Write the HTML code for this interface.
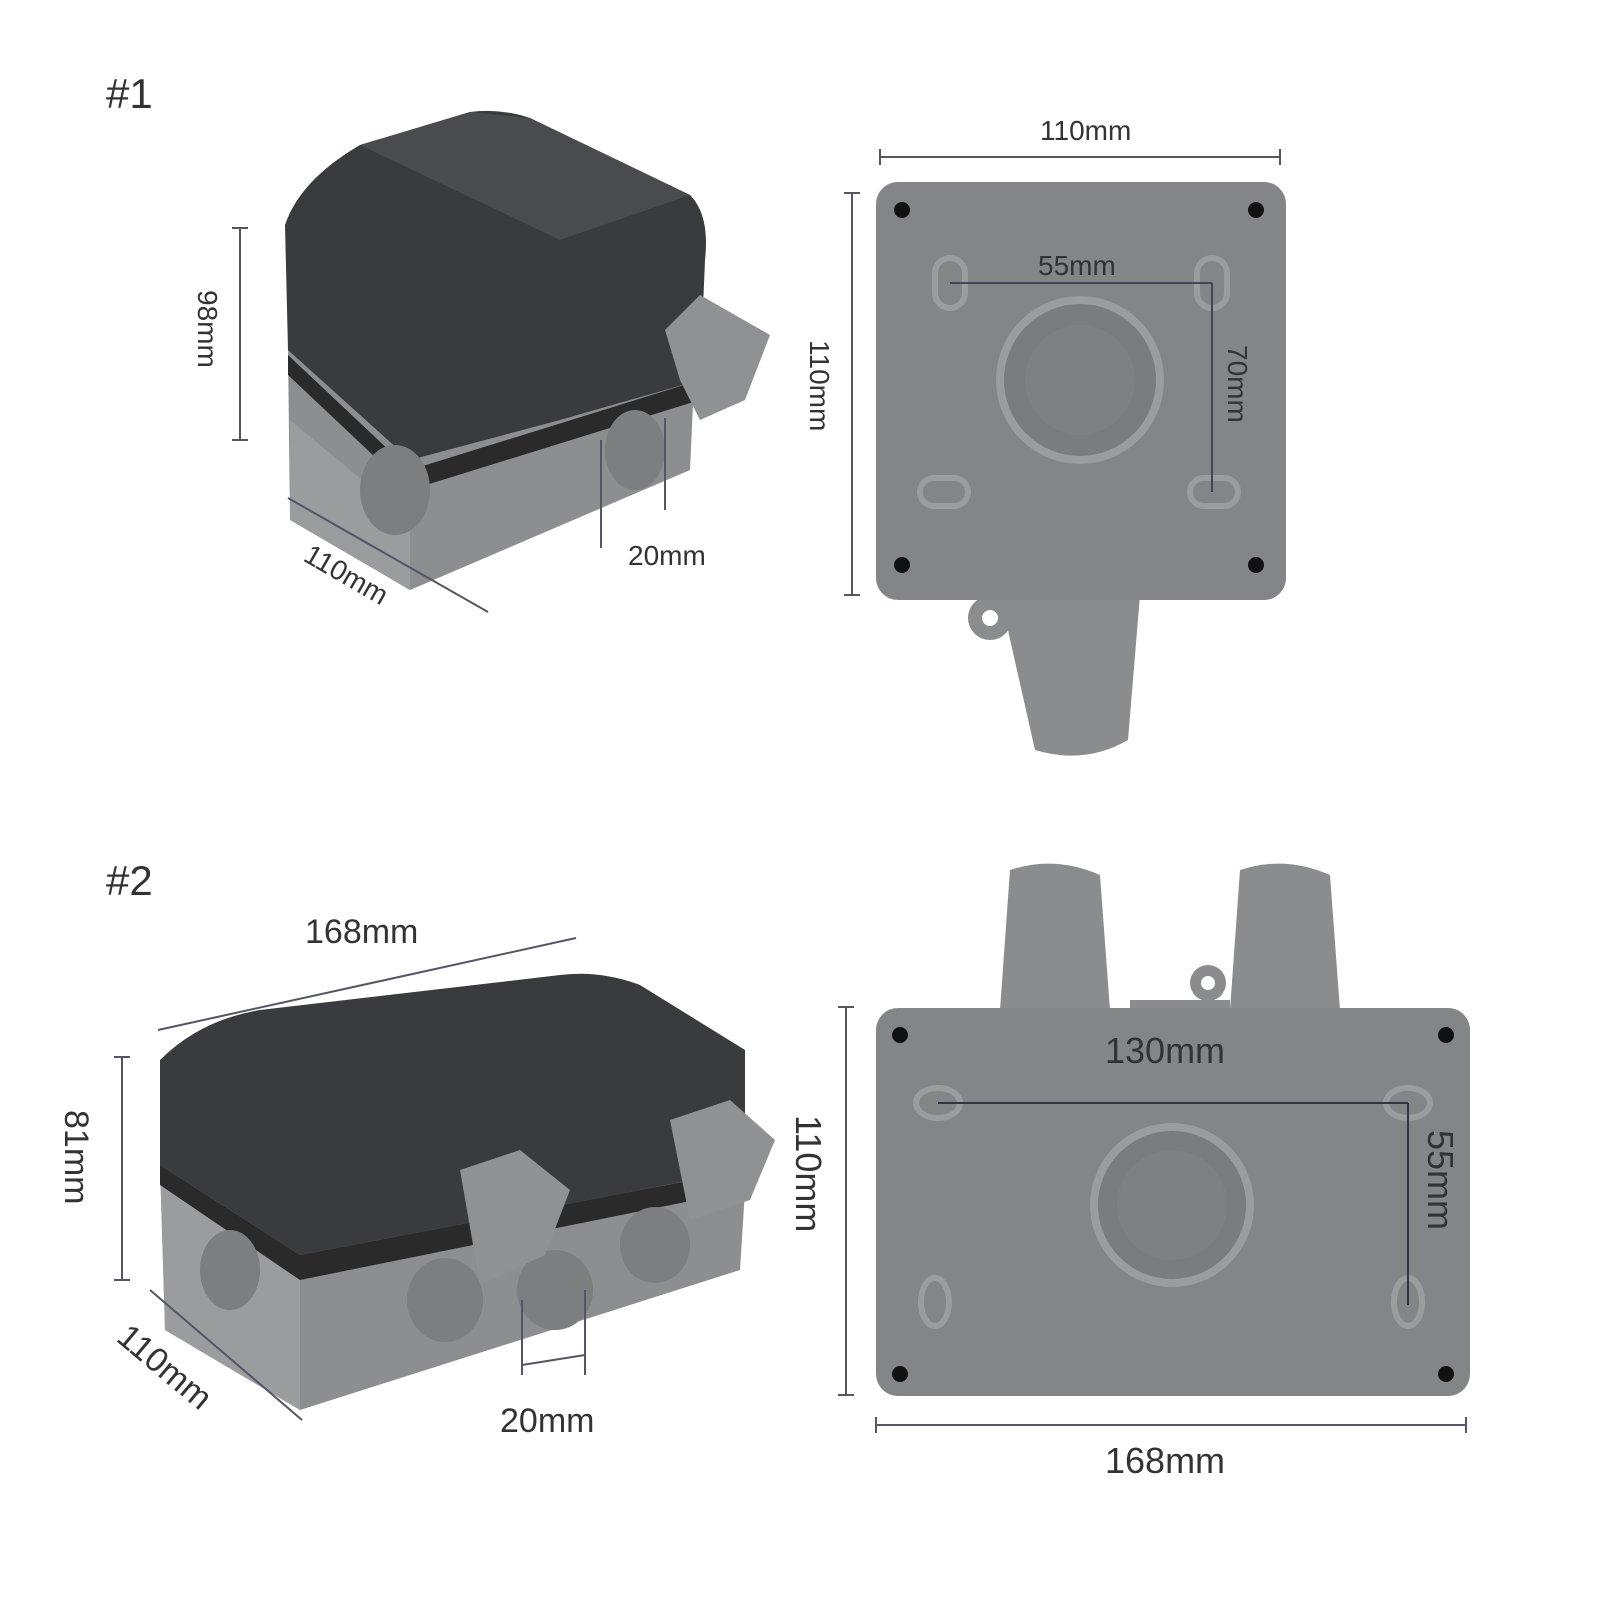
<!DOCTYPE html>
<html><head><meta charset="utf-8"><style>
html,body{margin:0;padding:0;background:#fff;}
svg{display:block}
text{font-family:"Liberation Sans",sans-serif;fill:#333}
</style></head><body>
<svg width="1600" height="1600" viewBox="0 0 1600 1600" xmlns="http://www.w3.org/2000/svg">
<text x="106" y="108" font-size="42" fill="#222">#1</text>
<text x="106" y="895" font-size="42" fill="#222">#2</text>

<!-- Product 1 iso -->
<path d="M288,350 L290,520 L410,590 L690,470 L695,360 Z" fill="#8c8e90"/>
<path d="M290,420 L410,520 L410,590 L290,520 Z" fill="#9a9c9e"/>
<path d="M288,355 L410,470 L700,380 L700,400 L410,490 L288,375 Z" fill="#2a2a2a"/>
<path d="M285,225 Q300,180 360,145 L470,112 Q500,108 530,118 L690,195 Q710,215 705,260 L700,380 L560,420 L410,460 L288,350 Z" fill="#3a3b3c"/>
<path d="M470,112 L530,118 L690,195 L560,240 L360,145 Z" fill="#4a4b4c"/>
<ellipse cx="395" cy="490" rx="35" ry="45" fill="#7c7e80"/>
<ellipse cx="635" cy="450" rx="30" ry="40" fill="#7c7e80"/>
<path d="M665,330 L700,295 L770,335 L745,400 L700,420 L680,380 Z" fill="#8f9193"/>

<line x1="240" y1="228" x2="240" y2="440" stroke="#556" stroke-width="2"/>
<line x1="232" y1="228" x2="248" y2="228" stroke="#556" stroke-width="2"/>
<line x1="232" y1="440" x2="248" y2="440" stroke="#556" stroke-width="2"/>
<text transform="translate(198,290) rotate(90)" font-size="28">98mm</text>
<line x1="288" y1="498" x2="488" y2="612" stroke="#556" stroke-width="2"/>
<text transform="translate(302,560) rotate(30)" font-size="28">110mm</text>
<line x1="601" y1="440" x2="601" y2="548" stroke="#556" stroke-width="2"/>
<line x1="665" y1="418" x2="665" y2="510" stroke="#556" stroke-width="2"/>
<text x="628" y="565" font-size="28">20mm</text>

<!-- Back view 1 -->
<line x1="880" y1="157" x2="1280" y2="157" stroke="#556" stroke-width="2"/>
<line x1="880" y1="149" x2="880" y2="165" stroke="#556" stroke-width="2"/>
<line x1="1280" y1="149" x2="1280" y2="165" stroke="#556" stroke-width="2"/>
<text x="1040" y="140" font-size="28">110mm</text>
<line x1="852" y1="193" x2="852" y2="595" stroke="#556" stroke-width="2"/>
<line x1="844" y1="193" x2="860" y2="193" stroke="#556" stroke-width="2"/>
<line x1="844" y1="595" x2="860" y2="595" stroke="#556" stroke-width="2"/>
<text transform="translate(810,340) rotate(90)" font-size="28">110mm</text>
<path d="M1000,595 L1140,595 L1128,740 Q1085,765 1035,750 Z" fill="#8a8c8e"/>
<circle cx="990" cy="618" r="22" fill="#8a8c8e"/>
<circle cx="990" cy="618" r="8" fill="#fff"/>
<rect x="876" y="182" width="410" height="418" rx="22" fill="#838587"/>
<circle cx="902" cy="210" r="8" fill="#111"/><circle cx="1256" cy="210" r="8" fill="#111"/>
<circle cx="902" cy="565" r="8" fill="#111"/><circle cx="1256" cy="565" r="8" fill="#111"/>
<circle cx="1080" cy="380" r="80" fill="#7a7c7e" stroke="#9a9c9e" stroke-width="8"/>
<circle cx="1080" cy="380" r="55" fill="#7e8082"/>
<rect x="935" y="258" width="30" height="50" rx="15" fill="none" stroke="#9a9c9e" stroke-width="6"/>
<rect x="1197" y="258" width="30" height="50" rx="15" fill="none" stroke="#9a9c9e" stroke-width="6"/>
<rect x="920" y="478" width="48" height="28" rx="14" fill="none" stroke="#9a9c9e" stroke-width="6"/>
<rect x="1190" y="478" width="48" height="28" rx="14" fill="none" stroke="#9a9c9e" stroke-width="6"/>
<line x1="950" y1="283" x2="1212" y2="283" stroke="#445" stroke-width="2"/>
<line x1="1212" y1="283" x2="1212" y2="492" stroke="#445" stroke-width="2"/>
<text x="1038" y="275" font-size="28">55mm</text>
<text transform="translate(1228,345) rotate(90)" font-size="28">70mm</text>

<!-- Product 2 iso -->
<path d="M160,1165 L165,1330 L300,1410 L740,1270 L745,1190 Z" fill="#8c8e90"/>
<path d="M160,1165 L300,1250 L300,1410 L165,1330 Z" fill="#9a9c9e"/>
<path d="M160,1165 L300,1255 L745,1170 L745,1190 L300,1280 L160,1185 Z" fill="#2a2a2a"/>
<path d="M160,1060 Q200,1020 260,1010 L560,975 Q600,970 640,985 L745,1050 L745,1170 L300,1255 L160,1165 Z" fill="#3a3b3c"/>
<ellipse cx="230" cy="1270" rx="30" ry="40" fill="#7c7e80"/>
<ellipse cx="445" cy="1300" rx="38" ry="42" fill="#7c7e80"/>
<ellipse cx="555" cy="1290" rx="38" ry="40" fill="#7c7e80"/>
<ellipse cx="655" cy="1245" rx="35" ry="38" fill="#7c7e80"/>
<path d="M460,1170 L520,1150 L570,1190 L545,1255 L480,1285 Z" fill="#8f9193"/>
<path d="M670,1120 L730,1100 L775,1140 L750,1200 L690,1220 Z" fill="#8f9193"/>
<line x1="158" y1="1030" x2="576" y2="938" stroke="#556" stroke-width="2"/>
<text x="305" y="943" font-size="34">168mm</text>
<line x1="122" y1="1057" x2="122" y2="1280" stroke="#556" stroke-width="2"/>
<line x1="114" y1="1057" x2="130" y2="1057" stroke="#556" stroke-width="2"/>
<line x1="114" y1="1280" x2="130" y2="1280" stroke="#556" stroke-width="2"/>
<text transform="translate(65,1110) rotate(90)" font-size="34">81mm</text>
<line x1="150" y1="1290" x2="302" y2="1420" stroke="#556" stroke-width="2"/>
<text transform="translate(115,1340) rotate(40)" font-size="34">110mm</text>
<line x1="522" y1="1300" x2="522" y2="1375" stroke="#556" stroke-width="2"/>
<line x1="585" y1="1290" x2="585" y2="1375" stroke="#556" stroke-width="2"/>
<line x1="522" y1="1365" x2="585" y2="1355" stroke="#556" stroke-width="2"/>
<text x="500" y="1432" font-size="34">20mm</text>

<!-- Back view 2 -->
<path d="M1000,1010 L1010,870 Q1055,855 1100,875 L1110,1010 Z" fill="#8a8c8e"/>
<path d="M1230,1010 L1240,870 Q1285,855 1330,875 L1340,1010 Z" fill="#8a8c8e"/>
<rect x="1130" y="1000" width="100" height="15" fill="#8a8c8e"/>
<circle cx="1208" cy="983" r="18" fill="#8a8c8e"/>
<circle cx="1208" cy="983" r="7" fill="#fff"/>
<rect x="876" y="1008" width="594" height="388" rx="22" fill="#838587"/>
<circle cx="900" cy="1035" r="8" fill="#111"/><circle cx="1446" cy="1035" r="8" fill="#111"/>
<circle cx="900" cy="1374" r="8" fill="#111"/><circle cx="1446" cy="1374" r="8" fill="#111"/>
<circle cx="1172" cy="1205" r="78" fill="#7a7c7e" stroke="#9a9c9e" stroke-width="8"/>
<circle cx="1172" cy="1205" r="55" fill="#7e8082"/>
<ellipse cx="938" cy="1103" rx="22" ry="15" fill="none" stroke="#9a9c9e" stroke-width="6"/>
<ellipse cx="1408" cy="1103" rx="22" ry="15" fill="none" stroke="#9a9c9e" stroke-width="6"/>
<ellipse cx="935" cy="1302" rx="14" ry="24" fill="none" stroke="#9a9c9e" stroke-width="6"/>
<ellipse cx="1408" cy="1302" rx="14" ry="24" fill="none" stroke="#9a9c9e" stroke-width="6"/>
<line x1="938" y1="1103" x2="1408" y2="1103" stroke="#334" stroke-width="2"/>
<line x1="1408" y1="1103" x2="1408" y2="1305" stroke="#334" stroke-width="2"/>
<text x="1105" y="1063" font-size="36" fill="#223">130mm</text>
<text transform="translate(1428,1130) rotate(90)" font-size="36" fill="#223">55mm</text>
<line x1="846" y1="1007" x2="846" y2="1395" stroke="#556" stroke-width="2"/>
<line x1="838" y1="1007" x2="854" y2="1007" stroke="#556" stroke-width="2"/>
<line x1="838" y1="1395" x2="854" y2="1395" stroke="#556" stroke-width="2"/>
<text transform="translate(796,1115) rotate(90)" font-size="36">110mm</text>
<line x1="876" y1="1425" x2="1466" y2="1425" stroke="#556" stroke-width="2"/>
<line x1="876" y1="1417" x2="876" y2="1433" stroke="#556" stroke-width="2"/>
<line x1="1466" y1="1417" x2="1466" y2="1433" stroke="#556" stroke-width="2"/>
<text x="1105" y="1473" font-size="36">168mm</text>
</svg>
</body></html>
